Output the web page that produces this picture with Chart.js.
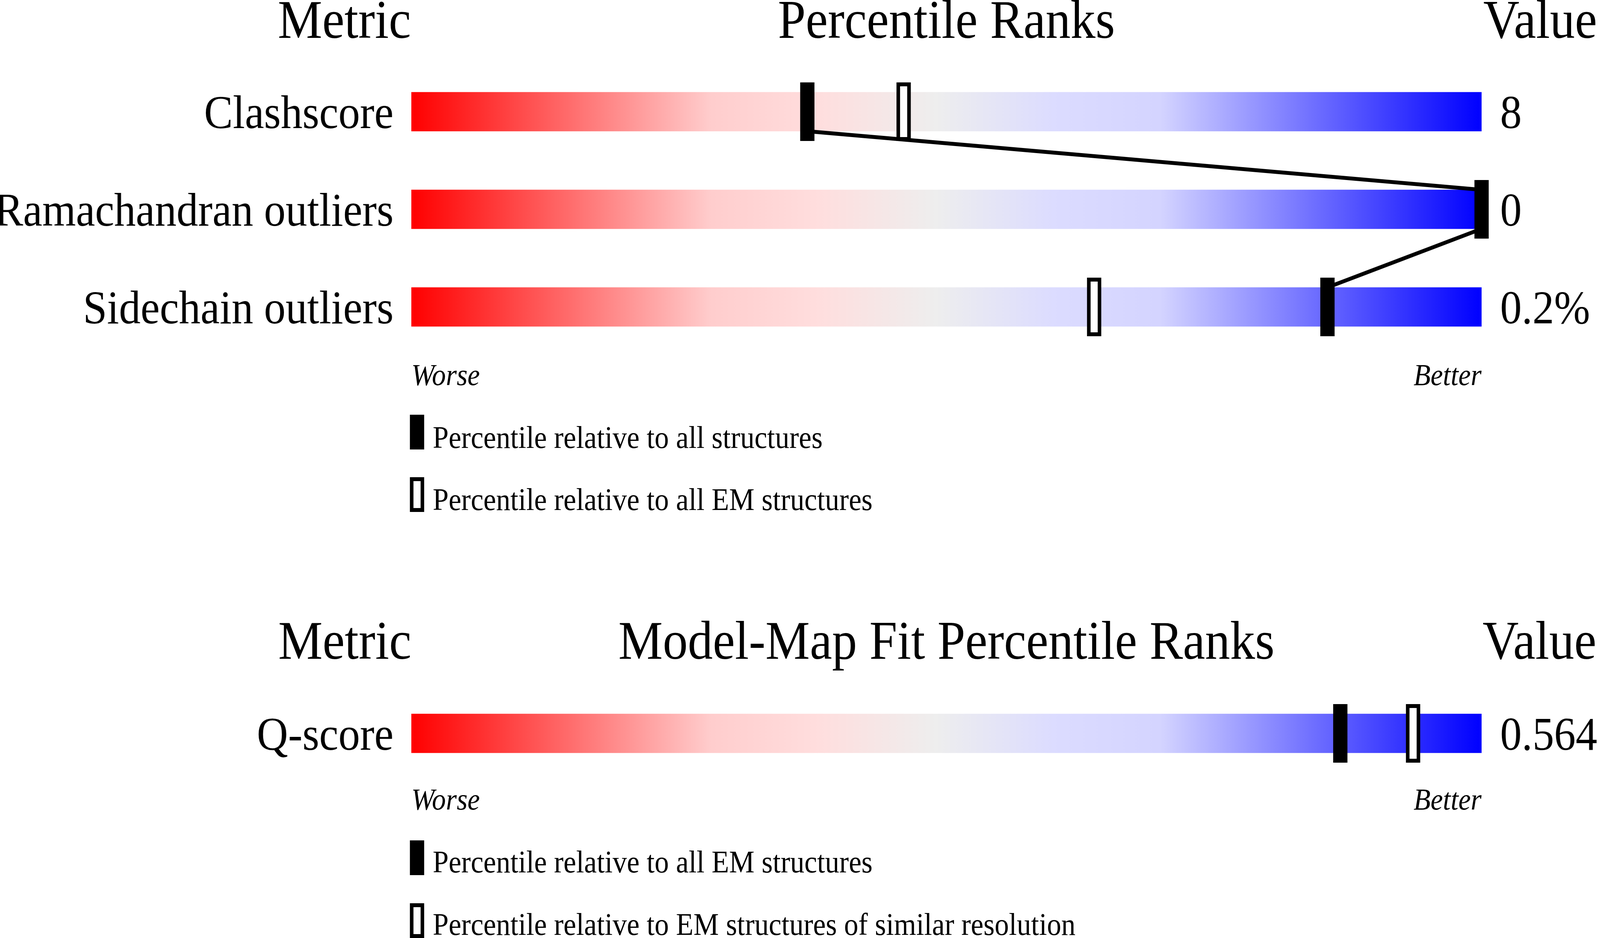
<!DOCTYPE html>
<html>
<head>
<meta charset="utf-8">
<script src="https://cdn.jsdelivr.net/npm/chart.js@4.4.1/dist/chart.umd.min.js"></script>
<style>
  html, body { margin: 0; padding: 0; background: #fff; overflow: hidden; }
  #page { position: absolute; left: 0; top: 0; width: 4485px; height: 2402px; overflow: hidden;
          transform-origin: 0 0; font-family: "Liberation Serif", "Times New Roman", serif; color: #000; }
  .t { position: absolute; white-space: nowrap; line-height: 1; }
  .head { font-size: 140px; }
  .end { font-size: 78px; font-style: italic; }
  .leg { font-size: 80px; }
  .icon { position: absolute; left: 1149px; width: 40px; height: 89px; box-sizing: border-box; background: #000; }
  .icon.open { background: #fff; border: 10px solid #000; }
  .box { position: absolute; left: 0; width: 4485px; }
</style>
</head>
<body>
<div id="page">
  <!-- panel 1 -->
  <div class="t head" style="top:-20px; right:3333px;">Metric</div>
  <div class="t head" style="top:-20px; left:2653px; transform:translateX(-50%);">Percentile Ranks</div>
  <div class="t head" style="top:-20px; left:4158px;">Value</div>
  <div class="box" style="top:161px; height:750px;"><canvas id="validation"></canvas></div>
  <div class="t end" style="top:921px; left:1153px;">Worse</div>
  <div class="t end" style="top:921px; right:332px;">Better</div>
  <div class="icon" style="top:1062px;"></div>
  <div class="t leg" style="top:1080px; left:1213px;">Percentile relative to all structures</div>
  <div class="icon open" style="top:1222px;"></div>
  <div class="t leg" style="top:1239px; left:1213px;">Percentile relative to all EM structures</div>

  <!-- panel 2 -->
  <div class="t head" style="top:1570px; right:3332px;">Metric</div>
  <div class="t head" style="top:1570px; left:2653px; transform:translateX(-50%);">Model-Map Fit Percentile Ranks</div>
  <div class="t head" style="top:1570px; left:4156px;">Value</div>
  <div class="box" style="top:1753px; height:250px;"><canvas id="fit"></canvas></div>
  <div class="t end" style="top:2008px; left:1153px;">Worse</div>
  <div class="t end" style="top:2008px; right:332px;">Better</div>
  <div class="icon" style="top:2152px;"></div>
  <div class="t leg" style="top:2167px; left:1213px;">Percentile relative to all EM structures</div>
  <div class="icon open" style="top:2313px;"></div>
  <div class="t leg" style="top:2327px; left:1213px;">Percentile relative to EM structures of similar resolution</div>
</div>

<script>
// validation panel
const validMetrics = ["Clashscore", "Ramachandran outliers", "Sidechain outliers"];
const validValues = ["8", "0", "0.2%"];
const validAllPct = [37, 100, 85.6];
const validEmPct = [46, 100, 63.8];

// model-map fit panel
const fitMetrics = ["Q-score"];
const fitValues = ["0.564"];
const fitEmPct = [86.8];
const fitResPct = [93.6];

const PAGE_W = 4485;
const PAGE_H = 2402;
const FONT = "Liberation Serif";
const BAR_PX = 100;
const ROW_PX = 250;
const LEFT_PX = 1153;
const RIGHT_PX = 332;

// the window may be narrower than the picture, so fit the page to it
document.getElementById("page").style.transform =
  `scale(${window.innerWidth / PAGE_W}, ${window.innerHeight / PAGE_H})`;

const gradientStops = [
  [0, "rgb(255,0,0)"],
  [0.28, "rgb(255,205,205)"],
  [0.38, "rgb(255,222,222)"],
  [0.49, "rgb(238,238,238)"],
  [0.6, "rgb(220,220,255)"],
  [0.7, "rgb(212,212,255)"],
  [1, "rgb(0,0,255)"],
];

function markerImage(filled) {
  const c = document.createElement("canvas");
  c.width = 40;
  c.height = 150;
  const g = c.getContext("2d");
  g.fillStyle = "#000";
  g.fillRect(0, 0, 40, 150);
  if (!filled) {
    g.fillStyle = "#fff";
    g.fillRect(10, 10, 20, 130);
  }
  return c;
}

const FILLED = markerImage(true);
const OPEN = markerImage(false);

const barGradient = (context) => {
  const chart = context.chart;
  if (!chart.chartArea) return "#eee";
  const x = chart.scales.x;
  const g = chart.ctx.createLinearGradient(x.getPixelForValue(0), 0, x.getPixelForValue(100), 0);
  gradientStops.forEach(([s, c]) => g.addColorStop(s, c));
  return g;
};

function drawPanel(id, metrics, values, filledPct, openPct) {
  const rows = metrics.map((m, i) => i);
  const half = BAR_PX / 2 / ROW_PX;

  // line joins the filled markers from the bottom of one bar to the top of the next
  const link = [];
  filledPct.forEach((p, i) => {
    if (i > 0) link.push({ x: p, y: i - half });
    if (i < filledPct.length - 1) link.push({ x: p, y: i + half });
  });

  const rowAxis = (position, labels, width, padding) => ({
    type: "linear",
    axis: "y",
    position: position,
    min: -0.5,
    max: rows.length - 0.5,
    reverse: true,
    offset: false,
    grid: { display: false, drawTicks: false },
    border: { display: false },
    afterBuildTicks: (s) => {
      s.ticks = rows.map((v) => ({ value: v }));
    },
    afterFit: (s) => {
      s.width = width;
      s.paddingTop = 0;
      s.paddingBottom = 0;
    },
    ticks: {
      autoSkip: false,
      padding: padding,
      labelOffset: 10,
      color: "#000",
      font: { family: FONT, size: 121 },
      callback: (v) => labels[v],
    },
  });

  return new Chart(document.getElementById(id), {
    type: "bar",
    data: {
      datasets: [
        {
          type: "scatter",
          data: filledPct.map((p, i) => ({ x: p, y: i })),
          pointStyle: FILLED,
          pointRadius: 10,
          hoverRadius: 10,
          yAxisID: "y",
          clip: false,
          order: 0,
        },
        {
          type: "scatter",
          data: openPct.map((p, i) => ({ x: p, y: i })),
          pointStyle: OPEN,
          pointRadius: 10,
          hoverRadius: 10,
          yAxisID: "y",
          clip: false,
          order: 1,
        },
        {
          type: "line",
          data: link,
          borderColor: "#000",
          borderWidth: 10,
          pointRadius: 0,
          fill: false,
          tension: 0,
          yAxisID: "y",
          clip: false,
          order: 2,
        },
        {
          type: "bar",
          indexAxis: "y",
          data: rows.map((i) => ({ x: [0, 100], y: i })),
          backgroundColor: barGradient,
          borderWidth: 0,
          barThickness: BAR_PX,
          yAxisID: "y",
          order: 3,
        },
      ],
    },
    options: {
      responsive: true,
      maintainAspectRatio: false,
      animation: false,
      events: [],
      layout: { padding: 0, autoPadding: false },
      plugins: {
        legend: { display: false },
        tooltip: { enabled: false },
      },
      scales: {
        x: { type: "linear", min: 0, max: 100, offset: false, display: false },
        y: rowAxis("left", metrics, LEFT_PX, 50),
        y2: rowAxis("right", values, RIGHT_PX, 52),
      },
    },
  });
}

drawPanel("validation", validMetrics, validValues, validAllPct, validEmPct);
drawPanel("fit", fitMetrics, fitValues, fitEmPct, fitResPct);
</script>
</body>
</html>
